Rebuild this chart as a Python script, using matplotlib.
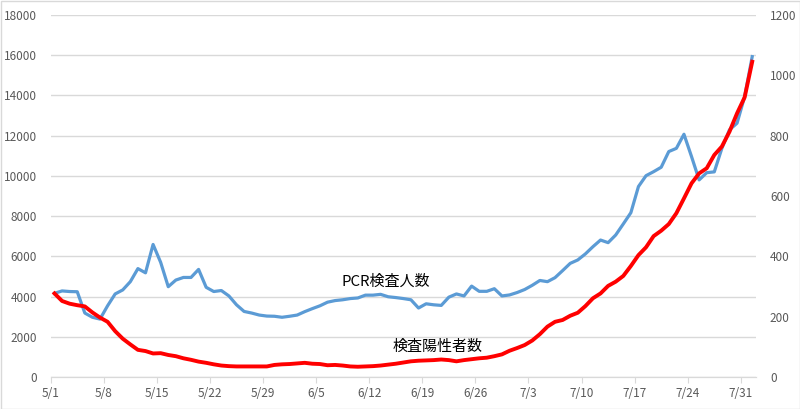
import matplotlib
matplotlib.use("Agg")
import matplotlib.pyplot as plt
from matplotlib.patches import Rectangle
import numpy as np
import pandas as pd

plt.rcParams['font.family'] = ['Noto Sans CJK JP', 'DejaVu Sans']

dates = pd.date_range("2020-05-01", "2020-08-01", freq="D")
pcr_tests = [4160, 4280, 4250, 4240, 3180, 2970, 2880, 3540, 4130, 4330,
             4740, 5390, 5180, 6590, 5700, 4490, 4820, 4950, 4950, 5350,
             4460, 4250, 4300, 4030, 3590, 3260, 3180, 3080, 3030, 3020,
             2970, 3020, 3080, 3250, 3400, 3540, 3720, 3800, 3840, 3900,
             3930, 4070, 4070, 4110, 3990, 3950, 3900, 3840, 3430, 3640,
             3590, 3560, 3970, 4130, 4030, 4520, 4260, 4260, 4390, 4030,
             4080, 4200, 4350, 4560, 4800, 4740, 4940, 5290, 5650, 5820,
             6120, 6480, 6810, 6680, 7060, 7610, 8170, 9470, 10010, 10210,
             10430, 11210, 11370, 12070, 10960, 9800, 10160, 10200, 11370, 12290,
             12620, 13940, 15930]
positives = [277, 252, 243, 238, 234, 214, 197, 183, 152, 127,
             108, 90, 86, 78, 79, 73, 69, 62, 57, 51,
             47, 42, 38, 36, 35, 35, 35, 35, 35, 40,
             42, 43, 45, 47, 44, 43, 39, 40, 38, 35,
             34, 35, 36, 38, 41, 44, 48, 52, 54, 55,
             56, 58, 56, 52, 56, 59, 62, 64, 69, 75,
             87, 96, 106, 121, 142, 167, 183, 189, 203, 213,
             235, 261, 277, 302, 316, 335, 368, 404, 430, 467,
             485, 507, 543, 592, 642, 675, 692, 736, 764, 813,
             874, 927, 1045]
left_ticks = list(range(0, 18001, 2000))
right_ticks = list(range(0, 1201, 200))
label_pcr = "PCR検査人数"
label_pos = "検査陽性者数"

x = np.arange(len(dates))
tick_idx = list(range(0, len(dates), 7))
tick_labels = [f"{dates[i].month}/{dates[i].day}" for i in tick_idx]

fig = plt.figure(figsize=(8, 4.09), dpi=100)
ax = fig.add_axes([50.7/800, 1-377/409, (756-50.7)/800, (377-15)/409])
ax2 = ax.twinx()

grey = "#595959"
ax.set_ylim(0, 18000)
ax.set_yticks(left_ticks)
ax.yaxis.grid(True, color="#d9d9d9", linewidth=1.0)
ax.set_axisbelow(True)
ax.set_xlim(-0.5, len(dates) - 0.5)
ax.set_xticks([i - 0.5 for i in tick_idx])
ax.set_xticklabels(tick_labels)
ax.plot(x, pcr_tests, color="#5b9bd5", linewidth=2.3, solid_joinstyle="round")

ax2.set_ylim(0, 1200)
ax2.set_yticks(right_ticks)
ax2.plot(x, positives, color="#ff0000", linewidth=2.8, solid_joinstyle="round")

for a in (ax, ax2):
    for s in ("top", "left", "right"):
        a.spines[s].set_visible(False)
    a.spines["bottom"].set_color("#d9d9d9")
    a.tick_params(axis="y", length=0, labelsize=8.5, labelcolor=grey)
ax.tick_params(axis="x", length=4, color="#d9d9d9", labelsize=8.5, labelcolor=grey, pad=3)
ax.tick_params(axis="y", pad=10)
ax2.tick_params(axis="y", pad=10)

ax.text(37.8, 4750, label_pcr, fontsize=10.8, color="black", ha="left", va="center")
ax.text(44.6, 1500, label_pos, fontsize=10.8, color="black", ha="left", va="center")

fig.patches.append(Rectangle((0.5/800, 0.5/409), 799/800, 408/409, transform=fig.transFigure,
                             fill=False, edgecolor="#d9d9d9", linewidth=1))
fig.savefig("out.png", dpi=100)
